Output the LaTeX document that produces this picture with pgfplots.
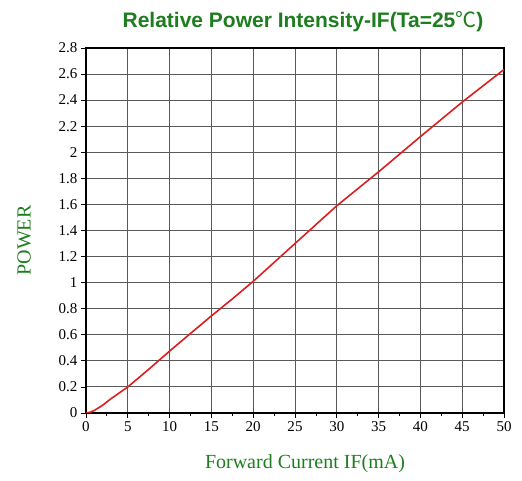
\documentclass[border=0pt]{standalone}
\usepackage{pgfplots}
\pgfplotsset{compat=1.18}
\usepackage{fontspec}
\setmainfont{Liberation Serif}
\newfontfamily\titlefont{Liberation Sans}
\newfontfamily\cjk{Noto Sans CJK SC}
\definecolor{dgreen}{HTML}{1E7D1E}
\definecolor{cred}{RGB}{220,30,30}
\begin{document}
\begin{tikzpicture}[x=1pt,y=1pt]
\begin{axis}[
  scale only axis,
  width=418pt, height=365pt,
  xmin=0, xmax=50, ymin=0, ymax=2.8,
  xtick={0,5,...,50},
  minor xtick={2.5,7.5,...,47.5},
  ytick={0,0.2,...,2.8},
  yticklabels={0,0.2,0.4,0.6,0.8,1,1.2,1.4,1.6,1.8,2,2.2,2.4,2.6,2.8},
  tick align=outside,
  tick pos=left,
  major tick length=5pt,
  minor tick length=3pt,
  grid=major,
  major grid style={draw=black!65, line width=0.9pt},
  axis line style={line width=1.5pt},
  tick style={black, line width=0.8pt},
  tick label style={font=\fontsize{15}{17}\selectfont},
  /pgf/number format/assume math mode=true,
  xlabel={Forward Current IF(mA)},
  ylabel={POWER},
  label style={font=\fontsize{20}{22}\selectfont, text=dgreen},
  xlabel style={yshift=-16pt, xshift=10pt},
  ylabel style={yshift=21pt, xshift=-10pt},
  title={\titlefont\bfseries Relative Power Intensity-IF(Ta=25{\cjk\mdseries ℃})},
  title style={font=\fontsize{21}{23}\selectfont, text=dgreen, xshift=8pt, yshift=7pt},
]
\addplot[cred, line width=1.6pt] coordinates {
(0,0) (0.5,0.006) (1,0.02) (2,0.06) (3,0.11) (4,0.155) (5,0.2) (7.5,0.335) (10,0.475) (12.5,0.61) (15,0.745) (17.5,0.875) (20,1.01) (25,1.3) (30,1.59) (35,1.85) (40,2.12) (45,2.385) (50,2.635)
};
\end{axis}
\useasboundingbox (current axis.south west)++(-86,-68) rectangle ([shift={(18,48)}]current axis.north east);
\end{tikzpicture}
\end{document}
